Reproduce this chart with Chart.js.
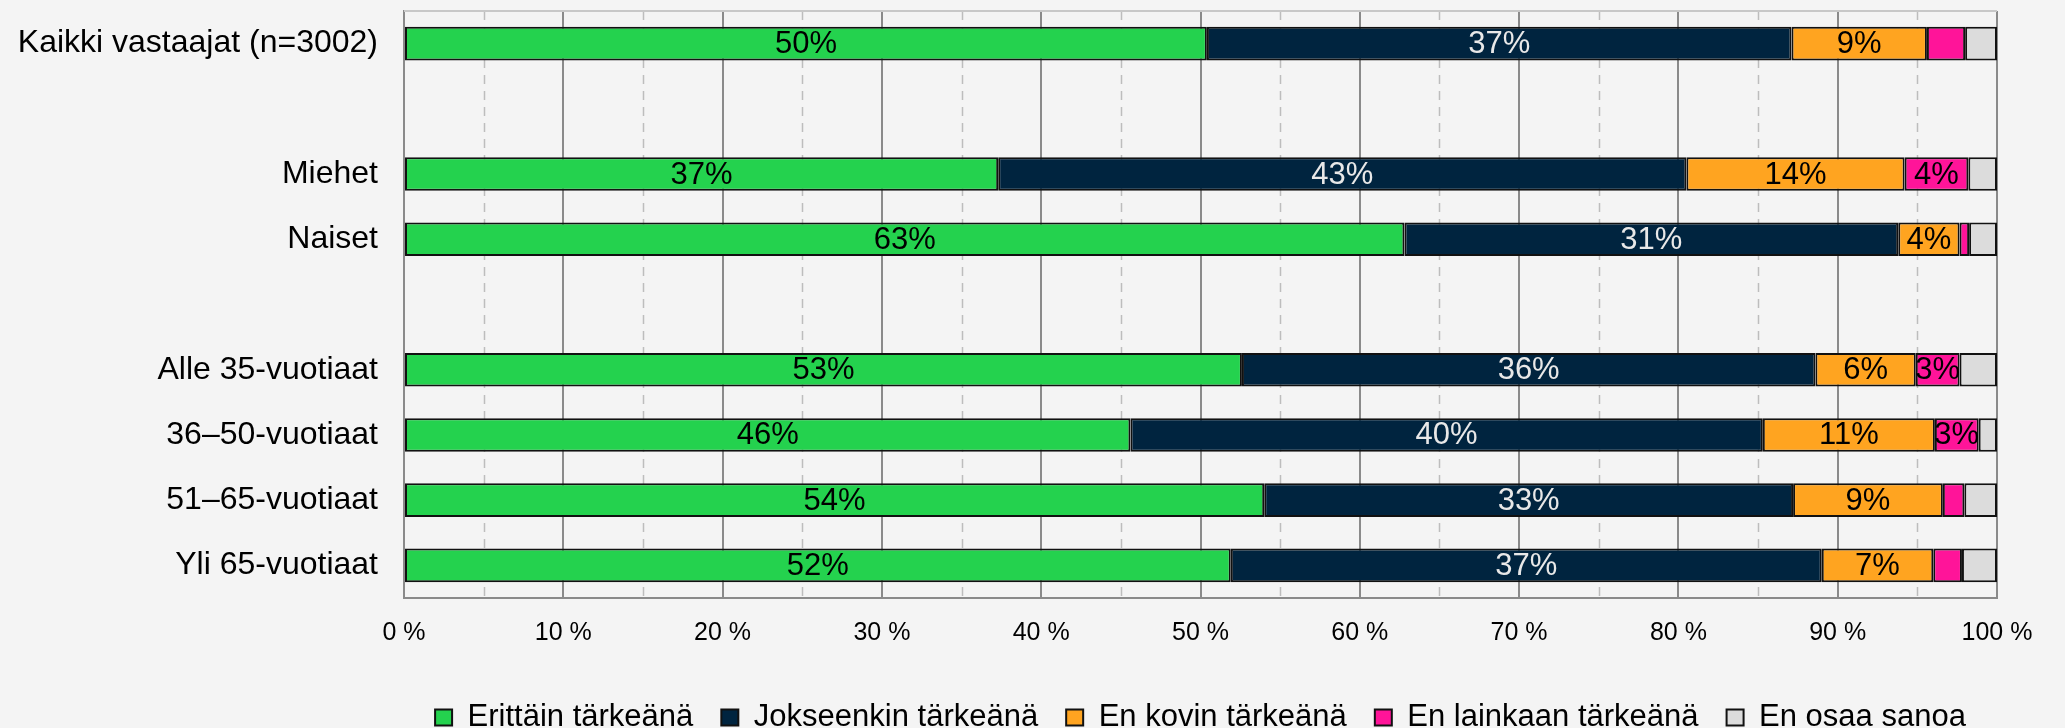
<!DOCTYPE html>
<html>
<head>
<meta charset="utf-8">
<script src="https://cdn.jsdelivr.net/npm/chart.js@4/dist/chart.umd.min.js"></script>
<style>
  html, body { margin: 0; padding: 0; background: #f4f4f4; }
  #wrap { width: 2065px; height: 728px; position: relative; }
</style>
</head>
<body>
<div id="wrap"><canvas id="c" width="2065" height="728"></canvas></div>
<script>
// ---- data ----
const categories = ['Kaikki vastaajat (n=3002)', '', 'Miehet', 'Naiset', '', 'Alle 35-vuotiaat', '36–50-vuotiaat', '51–65-vuotiaat', 'Yli 65-vuotiaat'];
const seriesNames = ['Erittäin tärkeänä', 'Jokseenkin tärkeänä', 'En kovin tärkeänä', 'En lainkaan tärkeänä', 'En osaa sanoa'];
const erittain   = [50.4, null, 37.3, 62.8, null, 52.6, 45.6, 54.0, 51.9];
const jokseenkin = [36.7, null, 43.2, 31.0, null, 36.0, 39.7, 33.2, 37.1];
const eiKovin    = [8.5,  null, 13.7, 3.85, null, 6.3,  10.8, 9.4,  7.0];
const eiLainkaan = [2.4,  null, 4.0,  0.6,  null, 2.75, 2.75, 1.35, 1.8];
const eiOsaa     = [2.0,  null, 1.8,  1.75, null, 2.35, 1.15, 2.05, 2.2];
const xTicks = [0, 10, 20, 30, 40, 50, 60, 70, 80, 90, 100];

const colors = ['#24d24e', '#00243f', '#ffa420', '#ff1499', '#dcdcdc'];
const labelColors = ['#000000', '#e8e8e8', '#000000', '#000000', '#000000'];
const allSeries = [erittain, jokseenkin, eiKovin, eiLainkaan, eiOsaa];
const FONT = '"Liberation Sans", Arial, sans-serif';

const datasets = allSeries.map((d, i) => ({
  label: seriesNames[i],
  data: d,
  backgroundColor: colors[i],
  borderColor: '#111111',
  borderWidth: 2,
  borderSkipped: false,
  barPercentage: 1,
  categoryPercentage: 0.515
}));

const gridPlugin = {
  id: 'gridExtra',
  beforeDatasetsDraw(chart) {
    const {ctx, chartArea: a, scales: {x}} = chart;
    ctx.save();
    ctx.strokeStyle = '#bdbdbd';
    ctx.lineWidth = 1.5;
    ctx.setLineDash([9, 7]);
    for (let v = 5; v < 100; v += 10) {
      const px = Math.round(x.getPixelForValue(v)) + 0.5;
      ctx.beginPath();
      ctx.moveTo(px, a.top);
      ctx.lineTo(px, a.bottom);
      ctx.stroke();
    }
    ctx.setLineDash([]);
    ctx.strokeStyle = '#c8c8c8';
    ctx.lineWidth = 2;
    ctx.beginPath();
    ctx.moveTo(a.left, a.top);
    ctx.lineTo(a.right, a.top);
    ctx.stroke();
    ctx.restore();
  }
};

const labelPlugin = {
  id: 'barLabels',
  afterDatasetsDraw(chart) {
    const {ctx} = chart;
    ctx.save();
    ctx.font = '31px ' + FONT;
    ctx.textAlign = 'center';
    ctx.textBaseline = 'middle';
    chart.data.datasets.forEach((ds, di) => {
      const meta = chart.getDatasetMeta(di);
      meta.data.forEach((el, i) => {
        const v = ds.data[i];
        if (v == null) return;
        const r = Math.round(v);
        if (r < 3) return;
        const p = el.getProps(['x', 'y', 'base'], true);
        ctx.fillStyle = labelColors[di];
        ctx.fillText(r + '%', (p.x + p.base) / 2, p.y + 1);
      });
    });
    ctx.restore();
  }
};

new Chart(document.getElementById('c'), {
  type: 'bar',
  data: { labels: categories, datasets },
  options: {
    indexAxis: 'y',
    responsive: false,
    animation: false,
    layout: { padding: { top: 11, right: 68, bottom: -15, left: 0 } },
    scales: {
      x: {
        stacked: true,
        min: 0, max: 100,
        afterBuildTicks(scale) { scale.ticks = xTicks.map(v => ({ value: v })); },
        afterFit(scale) { scale.height = 76; scale.paddingLeft = 0; scale.paddingRight = 0; },
        grid: { color: '#8a8a8a', lineWidth: 2, drawTicks: false },
        border: { color: '#8a8a8a', width: 2 },
        ticks: {
          padding: 20,
          color: '#000',
          font: { family: FONT, size: 25 },
          callback: v => v + ' %'
        }
      },
      y: {
        stacked: true,
        afterFit(scale) { scale.width = 404; scale.paddingTop = 0; scale.paddingBottom = 0; },
        grid: { display: false, drawTicks: false },
        border: { color: '#8a8a8a', width: 2 },
        ticks: {
          padding: 26,
          color: '#000',
          font: { family: FONT, size: 32 },
          autoSkip: false
        }
      }
    },
    plugins: {
      legend: {
        position: 'bottom',
        fullSize: false,
        labels: {
          color: '#000',
          font: { family: FONT, size: 31 },
          boxWidth: 17,
          boxHeight: 16,
          padding: 28
        }
      },
      tooltip: { enabled: false }
    }
  },
  plugins: [gridPlugin, labelPlugin]
});
</script>
</body>
</html>
